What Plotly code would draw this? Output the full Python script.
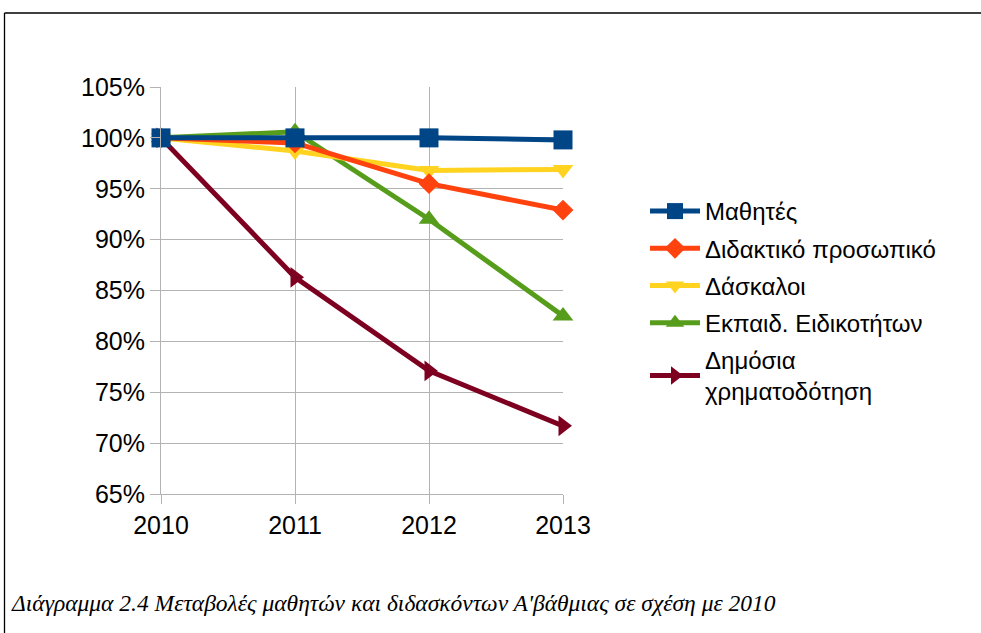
import plotly.graph_objects as go

years = [2010, 2011, 2012, 2013]
mathites = [100.0, 100.0, 100.0, 99.8]
didaktiko = [100.0, 99.5, 95.5, 92.9]
daskaloi = [100.0, 98.7, 96.8, 96.9]
eidikotiton = [100.0, 100.6, 92.0, 82.5]
xrimatodotisi = [100.0, 86.3, 77.1, 71.7]

names = ["Μαθητές", "Διδακτικό προσωπικό", "Δάσκαλοι", "Εκπαιδ. Ειδικοτήτων", "Δημόσια<br>χρηματοδότηση"]
colors = ["#004586", "#ff420e", "#ffd320", "#579d1c", "#7e0021"]
symbols = ["square", "diamond", "triangle-down", "triangle-up", "triangle-right"]
sizes = [19, 16, 18, 18, 18]
series = [mathites, didaktiko, daskaloi, eidikotiton, xrimatodotisi]

W, H = 981, 633
L, R, T, B = 161, 563, 87, 494

def px(x):
    return (x - L) / (R - L)

def py(y):
    return (B - y) / (B - T)

fig = go.Figure()
draw_order = [4, 3, 2, 1, 0]
for i in draw_order:
    fig.add_trace(go.Scatter(
        x=years, y=series[i], name=names[i], mode="lines+markers",
        line=dict(color=colors[i], width=5),
        marker=dict(symbol=symbols[i], size=sizes[i], color=colors[i]),
        cliponaxis=False, legendrank=i + 1, legendgroup=str(i),
    ))

grid = "#b3b3b3"
fig.update_layout(
    width=W, height=H,
    margin=dict(l=L, r=W - R, t=T, b=H - B, autoexpand=False),
    paper_bgcolor="white", plot_bgcolor="white",
    font=dict(family="Liberation Sans", size=24, color="black"),
    showlegend=True,
    legend=dict(x=px(645), xanchor="left", y=py(189), yanchor="top",
                font=dict(size=24), tracegroupgap=3, bgcolor="rgba(0,0,0,0)",
                itemwidth=50),
    xaxis=dict(range=[2010, 2013], tickvals=years, ticktext=[str(y) for y in years],
               showgrid=True, gridcolor=grid, gridwidth=1, showline=True,
               linecolor=grid, ticks="outside", ticklen=9, tickcolor=grid,
               tickfont=dict(size=25), zeroline=False),
    yaxis=dict(range=[65, 105], dtick=5, tick0=65, ticksuffix="%",
               showgrid=True, gridcolor=grid, gridwidth=1, showline=True,
               linecolor=grid, ticks="outside", ticklen=10, tickcolor=grid,
               tickfont=dict(size=25), zeroline=False),
    shapes=[
        dict(type="line", xref="paper", yref="paper", x0=px(4.5), x1=px(1000),
             y0=py(13), y1=py(13), line=dict(color="black", width=1.3)),
        dict(type="line", xref="paper", yref="paper", x0=px(4.5), x1=px(4.5),
             y0=py(13), y1=py(650), line=dict(color="black", width=1.3)),
    ],
    annotations=[
        dict(text="<i>Διάγραμμα 2.4 Μεταβολές μαθητών και διδασκόντων Α'βάθμιας σε σχέση με 2010</i>",
             xref="paper", yref="paper", x=px(9), xanchor="left", y=py(603), yanchor="middle",
             showarrow=False, font=dict(family="Liberation Serif", size=23.5, color="black")),
    ],
)

fig.write_html("out.html", config={"displayModeBar": False},
               post_script="document.body.style.margin='0px';document.body.style.overflow='hidden';")
